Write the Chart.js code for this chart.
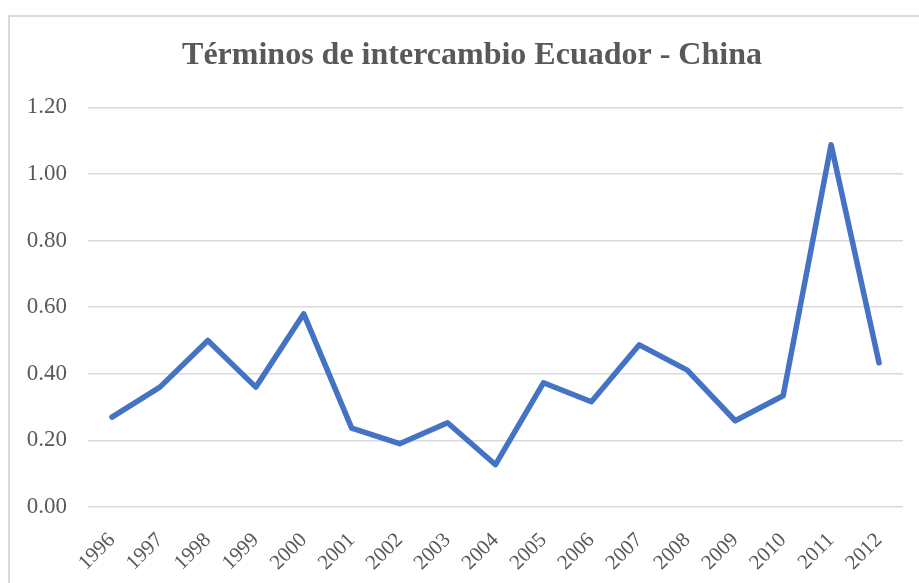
<!DOCTYPE html>
<html>
<head>
<meta charset="utf-8">
<script src="https://cdn.jsdelivr.net/npm/chart.js@4"></script>
<style>
    body { margin: 0; overflow: hidden; background: #fff; }
    #marco {
        position: absolute;
        left: 8px;
        top: 15px;
        width: 926px;
        height: 600px;
        border: 2px solid #d9d9d9;
        background: #fff;
    }
</style>
</head>
<body>
<div id="marco">
    <canvas id="terminosChart" width="924" height="570"></canvas>
</div>
<script>
// Datos
const anios = ['1996', '1997', '1998', '1999', '2000', '2001', '2002', '2003', '2004',
               '2005', '2006', '2007', '2008', '2009', '2010', '2011', '2012'];
const terminosIntercambio = [0.27, 0.36, 0.50, 0.36, 0.58, 0.237, 0.19, 0.253, 0.127,
                             0.373, 0.316, 0.487, 0.411, 0.259, 0.334, 1.088, 0.433];
const ticksEjeY = [0, 0.2, 0.4, 0.6, 0.8, 1.0, 1.2];

const fuente = "'Liberation Serif', 'Times New Roman', serif";
const gris = '#595959';

// El título se centra sobre todo el lienzo, no sólo hasta el padding derecho
const centrarTitulo = {
    id: 'centrarTitulo',
    afterLayout(chart) {
        if (chart.titleBlock) {
            chart.titleBlock.right = chart.width;
        }
    }
};

function dibujarGrafico() {
    const ctx = document.getElementById('terminosChart').getContext('2d');

    new Chart(ctx, {
        type: 'line',
        data: {
            labels: anios,
            datasets: [{
                label: 'Términos de intercambio',
                data: terminosIntercambio,
                borderColor: '#4472C4',
                borderWidth: 5.5,
                borderCapStyle: 'round',
                borderJoinStyle: 'round',
                pointRadius: 0,
                tension: 0,
                fill: false
            }]
        },
        plugins: [centrarTitulo],
        options: {
            responsive: false,
            animation: false,
            layout: { padding: { left: 0, right: 31, top: 0, bottom: 0 } },
            plugins: {
                legend: { display: false },
                tooltip: { enabled: false },
                title: {
                    display: true,
                    text: 'Términos de intercambio Ecuador - China',
                    color: gris,
                    font: { family: fuente, size: 32, weight: 'bold' },
                    padding: { top: 20, bottom: 32 }
                }
            },
            scales: {
                x: {
                    offset: true,
                    grid: { display: false },
                    border: { display: false },
                    ticks: {
                        color: gris,
                        font: { family: fuente, size: 21 },
                        minRotation: 45,
                        maxRotation: 45,
                        padding: 13
                    },
                    afterFit: (scale) => { scale.height = 80; }
                },
                y: {
                    min: 0,
                    max: 1.2,
                    afterBuildTicks: (scale) => {
                        scale.ticks = ticksEjeY.map(v => ({ value: v }));
                    },
                    grid: { color: '#d9d9d9', lineWidth: 1.5, drawTicks: false },
                    border: { display: false },
                    ticks: {
                        color: gris,
                        font: { family: fuente, size: 23 },
                        padding: 21,
                        callback: (v) => Number(v).toFixed(2)
                    },
                    afterFit: (scale) => { scale.width = 78; }
                }
            }
        }
    });
}

window.onload = dibujarGrafico;
</script>
</body>
</html>
